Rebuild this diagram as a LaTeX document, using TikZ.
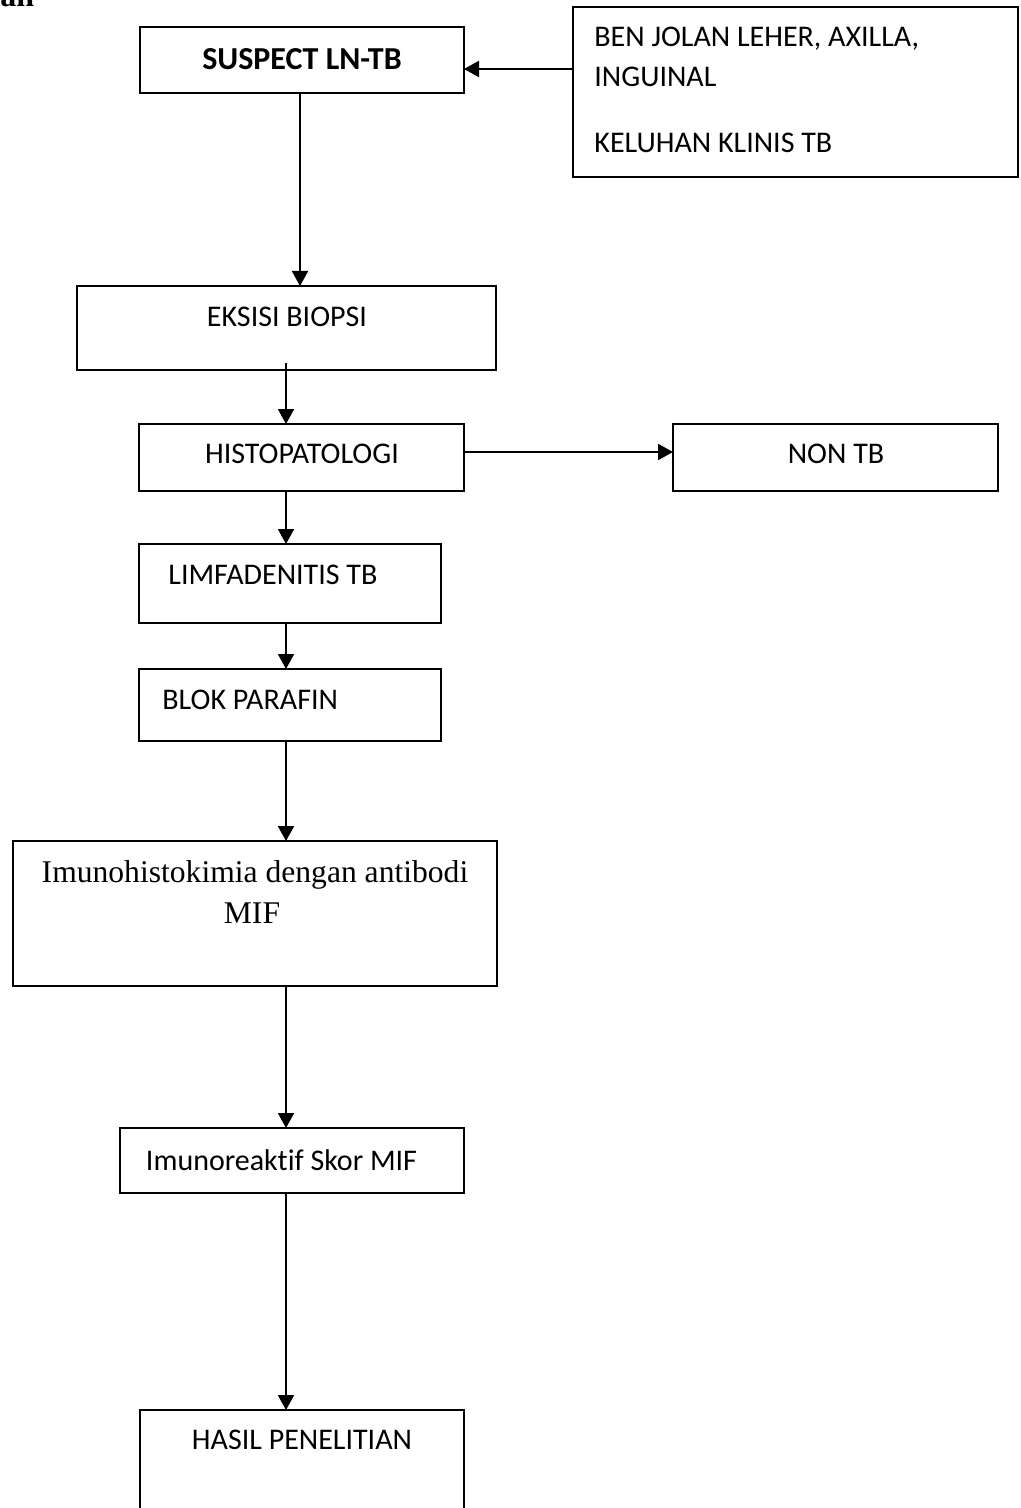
\documentclass[tikz,border=0pt]{standalone}
\usepackage{fontspec}
\setmainfont{Carlito}[Ligatures=NoCommon]
\newfontfamily\seriffam{Liberation Serif}
\usetikzlibrary{arrows.meta}
\begin{document}
\begin{tikzpicture}[x=0.5pt,y=-0.5pt,
  box/.style={draw=black, line width=1pt, inner sep=0pt, outer sep=0pt, anchor=north west, fill=white},
  arr/.style={draw=black, line width=1pt, -{Triangle[length=7.5pt,width=8pt]}},
  lbl/.style={inner sep=0pt, font=\fontsize{15}{18}\selectfont},
  slbl/.style={inner sep=0pt, font=\seriffam\fontsize{15.8}{19}\selectfont}]
\useasboundingbox (0,0) rectangle (1021,1508);
\fill[white] (0,0) rectangle (1021,1508);
\clip (0,0) rectangle (1021,1508);

% header fragment
\node[inner sep=0pt, anchor=base west, font=\seriffam\bfseries\fontsize{16}{19}\selectfont] (an) at (0,7) {an};

% boxes
\node[box, minimum width=162pt, minimum height=33pt] (suspect) at (140,27) {};
\node[box, minimum width=222.5pt, minimum height=85pt] (right) at (573,7) {};
\node[box, minimum width=209.5pt, minimum height=42pt] (eksisi) at (77,286) {};
\node[box, minimum width=162.5pt, minimum height=33.5pt] (histo) at (139,424) {};
\node[box, minimum width=162.5pt, minimum height=33.5pt] (nontb) at (673,424) {};
\node[box, minimum width=151pt, minimum height=39.5pt] (limf) at (139,544) {};
\node[box, minimum width=151pt, minimum height=36pt] (blok) at (139,669) {};
\node[box, minimum width=242pt, minimum height=72.5pt] (imuno) at (13,841) {};
\node[box, minimum width=172pt, minimum height=32.5pt] (skor) at (120,1128) {};
\node[box, minimum width=162pt, minimum height=65pt] (hasil) at (140,1410) {};

% texts
\node[lbl, anchor=base, font=\bfseries\fontsize{16}{19}\selectfont] (tsus) at (302,70) {SUSPECT LN-TB};
\node[lbl, anchor=base west] (tr1) at (594,47) {BEN JOLAN LEHER, AXILLA,};
\node[lbl, anchor=base west] (tr2) at (594,87) {INGUINAL};
\node[lbl, anchor=base west] (tr3) at (594,153) {KELUHAN KLINIS TB};
\node[lbl, anchor=base] (teks) at (287,327) {EKSISI BIOPSI};
\node[lbl, anchor=base] (this) at (302,463) {HISTOPATOLOGI};
\node[lbl, anchor=base] (tnon) at (836,463) {NON TB};
\node[lbl, anchor=base west] (tlimf) at (168,584) {LIMFADENITIS TB};
\node[lbl, anchor=base west] (tblok) at (162,709) {BLOK PARAFIN};
\node[slbl, anchor=base] (timu1) at (255,882) {Imunohistokimia dengan antibodi};
\node[slbl, anchor=base] (timu2) at (252,923) {MIF};
\node[lbl, anchor=base] (tskor) at (281.5,1170) {Imunoreaktif Skor MIF};
\node[lbl, anchor=base] (thasil) at (302,1449) {HASIL PENELITIAN};

% helper coordinates
\coordinate (ya) at (0,69);
\coordinate (c1) at (300,0);
\coordinate (cx) at (286,0);
\coordinate (e1) at (286,363);
\coordinate (yh) at (0,452);

% connectors
\draw[arr] (right.west |- ya) -- (suspect.east |- ya);
\draw[arr] (suspect.south -| c1) -- (eksisi.north -| c1);
\draw[arr] (e1) -- (histo.north -| e1);
\draw[arr] (histo.east |- yh) -- (nontb.west |- yh);
\draw[arr] (histo.south -| cx) -- (limf.north -| cx);
\draw[arr] (limf.south -| cx) -- (blok.north -| cx);
\draw[arr] (blok.south -| cx) -- (imuno.north -| cx);
\draw[arr] (imuno.south -| cx) -- (skor.north -| cx);
\draw[arr] (skor.south -| cx) -- (hasil.north -| cx);
\end{tikzpicture}
\end{document}
